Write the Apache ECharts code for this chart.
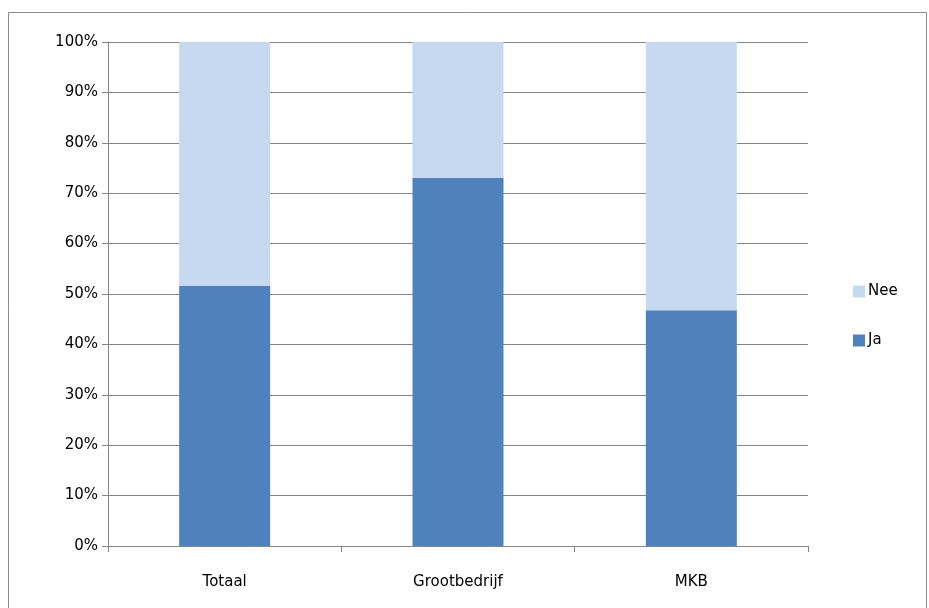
<!DOCTYPE html>
<html><head><meta charset="utf-8">
<script src="https://cdn.jsdelivr.net/npm/echarts@6/dist/echarts.min.js"></script>
<style>html,body{margin:0;padding:0;background:#fff}#c{width:929px;height:608px}</style>
</head><body><div id="c"></div>
<script>
var categories = ['Totaal', 'Grootbedrijf', 'MKB'];
var jaValues = [51.6, 73.0, 46.8];
var neeValues = [48.4, 27.0, 53.2];
var yTicks = ['0%','10%','20%','30%','40%','50%','60%','70%','80%','90%','100%'];

var chart = echarts.init(document.getElementById('c'), null, {renderer:'canvas'});
var font = 'Tahoma, "DejaVu Sans", sans-serif';
chart.setOption({
  animation: false,
  backgroundColor: '#fff',
  graphic: [{
    type: 'rect', shape: {x: 8.5, y: 12.5, width: 918, height: 620},
    style: {fill: 'none', stroke: '#8c8c8c', lineWidth: 1}, silent: true
  }],
  grid: {left: 108, top: 42, right: 121, bottom: 62},
  legend: {
    data: ['Nee', 'Ja'], orient: 'vertical', left: 848, top: 279,
    itemWidth: 12, itemHeight: 12, itemGap: 34,
    icon: 'rect',
    textStyle: {fontFamily: font, fontSize: 15, color: '#000', padding: [0,0,0,-2]}
  },
  xAxis: {
    type: 'category', data: categories,
    axisLine: {lineStyle: {color: '#868686'}},
    axisTick: {show: true, length: 6, lineStyle: {color: '#868686'}},
    axisLabel: {fontFamily: font, fontSize: 15, color: '#000', margin: 29}
  },
  yAxis: {
    type: 'value', min: 0, max: 100, interval: 10,
    axisLine: {show: true, lineStyle: {color: '#868686'}},
    axisTick: {show: true, length: 6, lineStyle: {color: '#868686'}},
    splitLine: {show: true, lineStyle: {color: '#868686'}},
    axisLabel: {fontFamily: font, fontSize: 15, color: '#000', margin: 10,
      formatter: function(v){ return yTicks[Math.round(v/10)]; }}
  },
  series: [
    {name: 'Ja', type: 'bar', stack: 's', data: jaValues, barWidth: '39%',
     itemStyle: {color: '#4F81BD'}},
    {name: 'Nee', type: 'bar', stack: 's', data: neeValues, barWidth: '39%',
     itemStyle: {color: '#C6D9F1'}}
  ]
});
</script></body></html>
